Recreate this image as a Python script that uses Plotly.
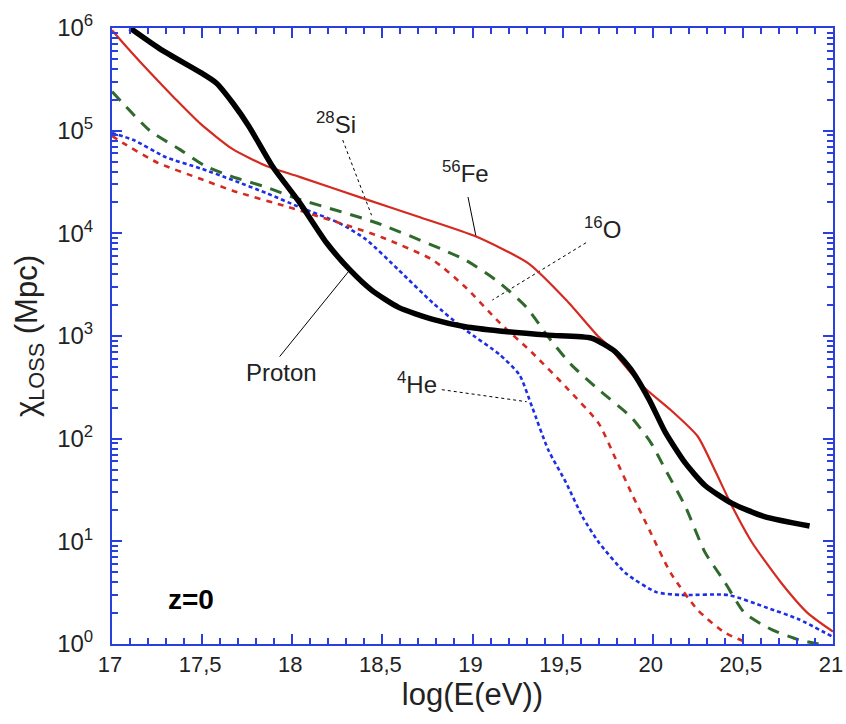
import plotly.graph_objects as go

# ---------------- data ----------------
proton_x = [17.1, 17.27, 17.49, 17.58, 17.67, 17.76, 17.89, 18.04, 18.19, 18.32, 18.44, 18.59,
            18.78, 18.96, 19.15, 19.42, 19.66, 19.79, 19.88, 19.98, 20.07, 20.18, 20.29, 20.44,
            20.62, 20.87]
proton_y = [1.0e6, 6.2e5, 3.7e5, 2.9e5, 1.86e5, 1.1e5, 4.5e4, 2.0e4, 8.1e3, 4.4e3, 2.8e3, 1.9e3,
            1.45e3, 1.23e3, 1.12e3, 1.02e3, 955, 710, 470, 240, 115, 58, 35, 23.4,
            17.4, 14.1]

fe_x = [17.0, 17.1, 17.21, 17.35, 17.49, 17.67, 17.86, 18.04, 18.41, 18.7,
        19.02, 19.31, 19.52, 19.70, 19.74, 19.94, 20.10, 20.25, 20.35, 20.44, 20.55, 20.71, 20.86, 21.0]
fe_y = [9.5e5, 6.0e5, 3.7e5, 2.05e5, 1.17e5, 6.6e4, 4.5e4, 3.55e4, 2.14e4, 1.45e4,
        9.3e3, 5.1e3, 2.24e3, 980, 850, 330, 190, 105, 47, 22, 9.8, 4.0, 2.0, 1.32]

si_x = [17.0, 17.21, 17.38, 17.52, 17.67, 17.86, 18.02, 18.47, 18.96, 19.15, 19.30, 19.42,
        19.55, 19.70, 19.88, 19.99, 20.07, 20.18, 20.29, 20.40, 20.51, 20.66, 20.81, 20.92]
si_y = [2.4e5, 1.0e5, 6.5e4, 4.5e4, 3.55e4, 2.8e4, 2.2e4, 1.26e4, 5.5e3, 3.3e3, 1.9e3, 980,
        520, 300, 162, 91, 50, 22, 7.8, 4.0, 2.0, 1.38, 1.1, 1.0]

o_x = [17.0, 17.06, 17.25, 17.49, 17.67, 17.98, 18.32, 18.50, 18.78, 18.96, 19.15, 19.33,
       19.52, 19.70, 19.79, 19.88, 19.99, 20.10, 20.25, 20.40, 20.53]
o_y = [8.9e4, 7.6e4, 4.9e4, 3.4e4, 2.6e4, 1.8e4, 1.17e4, 9.1e3, 5.5e3, 3.0e3, 1.35e3, 690,
       316, 141, 66, 30, 12, 4.9, 2.14, 1.29, 1.02]

he_x = [17.0, 17.12, 17.30, 17.49, 17.67, 17.86, 18.04, 18.26, 18.41, 18.59, 18.78, 18.96,
        19.15, 19.26, 19.33, 19.42, 19.52, 19.61, 19.70, 19.85, 20.02, 20.16, 20.42, 20.62, 20.81, 21.0]
he_y = [9.5e4, 8.1e4, 5.5e4, 4.3e4, 3.3e4, 2.45e4, 1.8e4, 1.26e4, 8.7e3, 4.4e3, 2.1e3, 1.15e3,
        660, 420, 205, 78, 37, 17.4, 9.8, 4.9, 3.2, 3.0, 3.0, 2.3, 1.74, 1.17]

x_tick_vals = [17, 17.5, 18, 18.5, 19, 19.5, 20, 20.5, 21]
x_tick_text = ["17", "17,5", "18", "18,5", "19", "19,5", "20", "20,5", "21"]
y_tick_vals = [1, 10, 100, 1000, 1e4, 1e5, 1e6]
y_tick_text = ["10<sup>0</sup>", "10<sup>1</sup>", "10<sup>2</sup>", "10<sup>3</sup>",
               "10<sup>4</sup>", "10<sup>5</sup>", "10<sup>6</sup>"]

# label texts, anchor (x, log10 y) and leader line ends
labels = [
    ("<sup>28</sup>Si", 18.245, 5.075),
    ("<sup>56</sup>Fe", 18.96, 4.60),
    ("<sup>16</sup>O", 19.72, 4.05),
    ("Proton", 17.94, 2.64),
    ("<sup>4</sup>He", 18.69, 2.54),
]
leader_x = [[18.28, 18.44], [18.975, 19.02], [19.63, 19.11], [18.31, 17.93], [18.83, 19.30]]
leader_y = [[8.1e4, 1.5e4], [2.26e4, 9.2e3], [8.1e3, 2.24e3], [4.2e3, 630], [300, 229]]
leader_dash = ["3px,3px", "solid", "3px,3px", "solid", "3px,3px"]

RED = "#d42a20"
GREEN = "#2f6a2c"
BLUE = "#1c2fe6"
AXIS = "#2a3fe0"
FONT = "Liberation Sans, Arial, Helvetica, sans-serif"

fig = go.Figure()

for xs, ys, d in zip(leader_x, leader_y, leader_dash):
    fig.add_trace(go.Scatter(x=xs, y=ys, mode="lines", hoverinfo="skip",
                             line=dict(color="black", width=1, dash=d)))

fig.add_trace(go.Scatter(x=he_x, y=he_y, mode="lines", name="4He",
                         line=dict(color=BLUE, width=2.6, dash="4px,3px", shape="spline", smoothing=0.6)))
fig.add_trace(go.Scatter(x=o_x, y=o_y, mode="lines", name="16O",
                         line=dict(color=RED, width=2.6, dash="6px,6px", shape="spline", smoothing=0.6)))
fig.add_trace(go.Scatter(x=si_x, y=si_y, mode="lines", name="28Si",
                         line=dict(color=GREEN, width=3, dash="12px,9px", shape="spline", smoothing=0.6)))
fig.add_trace(go.Scatter(x=fe_x, y=fe_y, mode="lines", name="56Fe",
                         line=dict(color=RED, width=2.2, shape="spline", smoothing=0.6)))
fig.add_trace(go.Scatter(x=proton_x, y=proton_y, mode="lines", name="Proton",
                         line=dict(color="black", width=5.5, shape="spline", smoothing=0.6)))

for txt, lx, ly in labels:
    fig.add_annotation(x=lx, y=ly, xref="x", yref="y", text=txt, showarrow=False,
                       font=dict(family=FONT, size=24, color="#222"))

fig.add_annotation(x=17.44, y=0.43, xref="x", yref="y", text="<b>z=0</b>", showarrow=False,
                   font=dict(family=FONT, size=28, color="black"))

minor_y = [k * 10 ** d for d in range(6) for k in range(2, 10)]

fig.update_xaxes(range=[17, 21], tickmode="array", tickvals=x_tick_vals, ticktext=x_tick_text,
                 ticks="inside", ticklen=10, tickwidth=1.5, tickcolor=AXIS,
                 minor=dict(tickmode="linear", tick0=17, dtick=0.1, ticks="inside", ticklen=6,
                            tickwidth=1.5, tickcolor=AXIS, showgrid=False),
                 showline=True, linecolor=AXIS, linewidth=2, mirror="allticks",
                 showgrid=False, zeroline=False, automargin=False, ticklabeloverflow="allow",
                 ticklabelshift=-2,
                 tickfont=dict(family=FONT, size=22, color="#222"),
                 title=dict(text="log(E(eV))", font=dict(family=FONT, size=31, color="#222"), standoff=6))

fig.update_yaxes(type="log", range=[0, 6], tickmode="array", tickvals=y_tick_vals, ticktext=y_tick_text,
                 ticks="inside", ticklen=10, tickwidth=1.5, tickcolor=AXIS,
                 minor=dict(tickmode="array", tickvals=minor_y, ticks="inside", ticklen=6,
                            tickwidth=1.5, tickcolor=AXIS, showgrid=False),
                 showline=True, linecolor=AXIS, linewidth=2, mirror="allticks",
                 showgrid=False, zeroline=False, automargin=False, ticklabelstandoff=12,
                 tickfont=dict(family=FONT, size=24, color="#222"),
                 title=dict(text="χ<sub>LOSS</sub> (Mpc)", font=dict(family=FONT, size=31, color="#222"),
                            standoff=10))

fig.update_layout(width=846, height=724, showlegend=False,
                  margin=dict(l=112, r=13, t=28, b=80),
                  plot_bgcolor="white", paper_bgcolor="white")

fig.write_html("out.html", config={"displayModeBar": False},
               post_script="document.body.style.margin='0';document.body.style.padding='0';")
